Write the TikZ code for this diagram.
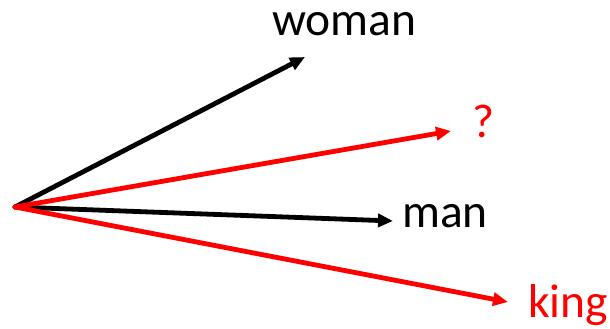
\documentclass[tikz,border=0pt]{standalone}
\usepackage{fontspec}
\setmainfont{Carlito}
\usepackage{xcolor}
\usetikzlibrary{arrows.meta}
\definecolor{ink}{HTML}{000000}
\definecolor{hot}{HTML}{FF0000}
\tikzset{
  vec/.style={line width=4.8pt, line cap=round, -{Triangle[length=15pt,width=13pt]}},
  word/.style={anchor=base west, inner sep=0pt, font=\fontsize{47.5}{52}\selectfont},
}

\begin{document}
\begin{tikzpicture}[x=1pt,y=-1pt]
  \useasboundingbox (0,0) rectangle (610,329);
  \coordinate (O) at (15,207);
  \coordinate (W) at (305,57);
  \coordinate (Q) at (451,131);
  \coordinate (M) at (393,221);
  \coordinate (K) at (508,302);

  % word labels
  \node[word,text=ink] (woman) at (272,36) {woman};
  \node[word,text=hot] (quest) at (472,137) {?};
  \node[word,text=ink] (man) at (402,227) {man};
  \node[word,text=hot] (king) at (528,317) {king};

  % vectors from the origin
  \foreach \X/\col in {W/ink,M/ink,Q/hot,K/hot}{
    \draw[vec,draw=\col,fill=\col] (O) -- (\X);
  }
\end{tikzpicture}
\end{document}
